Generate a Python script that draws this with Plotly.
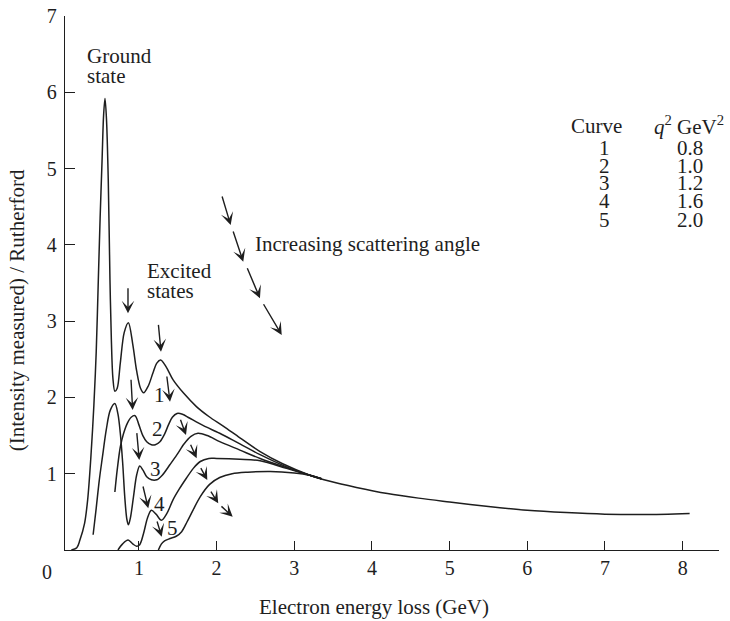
import plotly.graph_objects as go

# curves: electron energy loss (GeV) vs ratio
x1 = [0.13, 0.20, 0.24, 0.30, 0.34, 0.38, 0.42, 0.45, 0.477, 0.50,
      0.525, 0.545, 0.563, 0.582, 0.605, 0.627, 0.645, 0.665, 0.69, 0.72,
      0.76, 0.81, 0.864, 0.92, 0.97, 1.02, 1.06, 1.12, 1.18, 1.23,
      1.28, 1.35, 1.44, 1.58, 1.74, 1.90, 2.09, 2.30, 2.56, 2.85,
      3.20, 3.46, 3.80, 4.20, 4.60, 5.00, 5.50, 6.00, 6.50, 7.00,
      7.50, 8.09]
y1 = [0.0, 0.03, 0.13, 0.35, 0.66, 1.2, 1.9, 2.6, 3.54, 4.35,
      5.1, 5.7, 5.92, 5.65, 4.85, 3.54, 2.75, 2.25, 2.08, 2.12,
      2.45, 2.85, 2.98, 2.7, 2.35, 2.12, 2.06, 2.15, 2.32, 2.45,
      2.49, 2.40, 2.23, 2.05, 1.88, 1.75, 1.62, 1.47, 1.29, 1.13,
      0.98, 0.90, 0.82, 0.74, 0.68, 0.63, 0.57, 0.52, 0.49, 0.47,
      0.465, 0.48]

x2 = [0.69, 0.72, 0.76, 0.80, 0.85, 0.90, 0.95, 1.00, 1.05, 1.10, 1.16, 1.21,
      1.27, 1.33, 1.38, 1.43, 1.49, 1.56, 1.65, 1.83, 2.04, 2.30, 2.56, 2.90,
      3.20, 3.35]
y2 = [0.76, 1.05, 1.35, 1.52, 1.66, 1.74, 1.76, 1.64, 1.50, 1.42, 1.38, 1.38,
      1.42, 1.52, 1.64, 1.74, 1.79, 1.78, 1.73, 1.63, 1.53, 1.39, 1.25, 1.09,
      0.98, 0.935]

x3 = [0.41, 0.45, 0.49, 0.53, 0.58, 0.63, 0.69, 0.73, 0.76, 0.79, 0.82, 0.845,
      0.865, 0.89, 0.93, 0.97, 1.01, 1.05, 1.10, 1.16, 1.23, 1.30, 1.40, 1.49,
      1.58, 1.67, 1.76, 1.88, 2.04, 2.30, 2.56, 2.90, 3.20, 3.35]
y3 = [0.20, 0.55, 0.92, 1.22, 1.58, 1.83, 1.92, 1.78, 1.53, 1.15, 0.66, 0.40,
      0.33, 0.42, 0.70, 0.98, 1.10, 1.05, 0.96, 0.92, 0.92, 0.98, 1.12, 1.25,
      1.39, 1.49, 1.53, 1.50, 1.42, 1.31, 1.20, 1.08, 0.98, 0.935]

x4 = [0.73, 0.79, 0.86, 0.92, 0.97, 1.01, 1.06, 1.11, 1.16, 1.22, 1.29, 1.36,
      1.44, 1.52, 1.61, 1.70, 1.79, 1.90, 2.00, 2.30, 2.56, 2.90, 3.20, 3.35]
y4 = [0.0, 0.08, 0.13, 0.08, 0.05, 0.07, 0.22, 0.42, 0.52, 0.47, 0.39, 0.48,
      0.66, 0.80, 0.94, 1.07, 1.16, 1.20, 1.20, 1.19, 1.17, 1.07, 0.98, 0.935]

x5 = [1.25, 1.29, 1.33, 1.40, 1.48, 1.55, 1.62, 1.70, 1.79, 1.91, 2.04, 2.20,
      2.40, 2.69, 3.00, 3.20, 3.35]
y5 = [0.0, 0.08, 0.12, 0.15, 0.18, 0.24, 0.37, 0.53, 0.70, 0.86, 0.95, 1.00,
      1.02, 1.03, 1.01, 0.98, 0.935]

curve_ids = ["1", "2", "3", "4", "5"]
q2_values = ["0.8", "1.0", "1.2", "1.6", "2.0"]

# arrows (tail x, tail y, head x, head y) in data units
small_arrows = [
    (0.859, 3.451, 0.859, 3.102), (1.249, 2.971, 1.284, 2.599),
    (1.357, 2.294, 1.400, 1.944), (0.897, 2.251, 0.919, 1.835),
    (0.971, 1.551, 1.004, 1.180), (1.048, 0.852, 1.120, 0.547),
    (1.228, 0.393, 1.293, 0.174), (1.528, 1.726, 1.606, 1.507),
    (1.657, 1.399, 1.743, 1.202), (1.786, 1.092, 1.880, 0.918),
    (1.915, 0.786, 2.021, 0.612), (2.043, 0.590, 2.207, 0.436),
]
angle_arrows = [
    (2.065, 4.653, 2.181, 4.260), (2.207, 4.194, 2.343, 3.779),
    (2.387, 3.713, 2.558, 3.299), (2.593, 3.241, 2.838, 2.818),
]

FONT = "Liberation Serif"
INK = "#1e1e1e"

fig = go.Figure()
for xs, ys in [(x1, y1), (x2, y2), (x3, y3), (x4, y4), (x5, y5)]:
    fig.add_trace(go.Scatter(x=xs, y=ys, mode="lines",
                             line=dict(color=INK, width=1.5, shape="spline",
                                       smoothing=0.9),
                             hoverinfo="skip", showlegend=False))

anns = []
for tx, ty, hx, hy in small_arrows + angle_arrows:
    anns.append(dict(x=hx, y=hy, ax=tx, ay=ty, xref="x", yref="y",
                     axref="x", ayref="y", text="", showarrow=True,
                     arrowhead=3, arrowsize=1.5, arrowwidth=1.4,
                     arrowcolor=INK, standoff=0, startstandoff=0))


def label(text, x, y, xanchor="center", ref="data", size=21):
    r = ("x", "y") if ref == "data" else ("paper", "paper")
    anns.append(dict(text=text, x=x, y=y, xref=r[0], yref=r[1],
                     xanchor=xanchor, yanchor="middle", showarrow=False,
                     font=dict(family=FONT, size=size, color=INK)))


label("Ground", 0.305, 6.475, "left")
label("state", 0.305, 6.213, "left")
label("Excited", 1.078, 3.657, "left")
label("states", 1.078, 3.395, "left")
label("Increasing scattering angle", 2.472, 4.011, "left")

# curve numbers next to the curves
for t, cx, cy in zip(curve_ids, [1.271, 1.236, 1.215, 1.262, 1.429],
                     [2.032, 1.582, 1.058, 0.603, 0.284]):
    label(t, cx, cy)

# small table in the corner
label("Curve", 6.897, 5.562)
label("<i>q</i><sup>2</sup> GeV<sup>2</sup>", 8.08, 5.562)
for i, (c, q) in enumerate(zip(curve_ids, q2_values)):
    ty = [5.272, 5.040, 4.813, 4.574, 4.332][i]
    label(c, 6.998, ty)
    label(q, 8.094, ty)

# axis titles and the shared origin label
label("(Intensity measured) / Rutherford", -0.0734, 0.449, ref="paper")
anns[-1]["textangle"] = -90
label("Electron energy loss (GeV)", 0.4725, -0.107, ref="paper")
label("0", -0.0268, -0.041, ref="paper", size=20)

fig.update_layout(
    width=730, height=621,
    margin=dict(l=65, r=11, t=16, b=71, autoexpand=False),
    paper_bgcolor="white", plot_bgcolor="white",
    font=dict(family=FONT, size=20, color=INK),
    annotations=anns,
)
fig.update_xaxes(range=[0.048, 8.468], tickvals=[1, 2, 3, 4, 5, 6, 7, 8],
                 ticks="inside", ticklen=9, tickwidth=1.3, tickcolor=INK,
                 showline=True, linecolor=INK, linewidth=1.3,
                 showgrid=False, zeroline=False, automargin=False)
fig.update_yaxes(range=[0, 7], tickvals=[1, 2, 3, 4, 5, 6, 7],
                 ticks="inside", ticklen=10, tickwidth=1.3, tickcolor=INK,
                 showline=True, linecolor=INK, linewidth=1.3,
                 showgrid=False, zeroline=False, automargin=False,
                 ticklabelstandoff=3)

# page body margin would shift the figure by 8px
fig.write_html("out.html", config={"displayModeBar": False},
               post_script="document.body.style.margin='0';")
